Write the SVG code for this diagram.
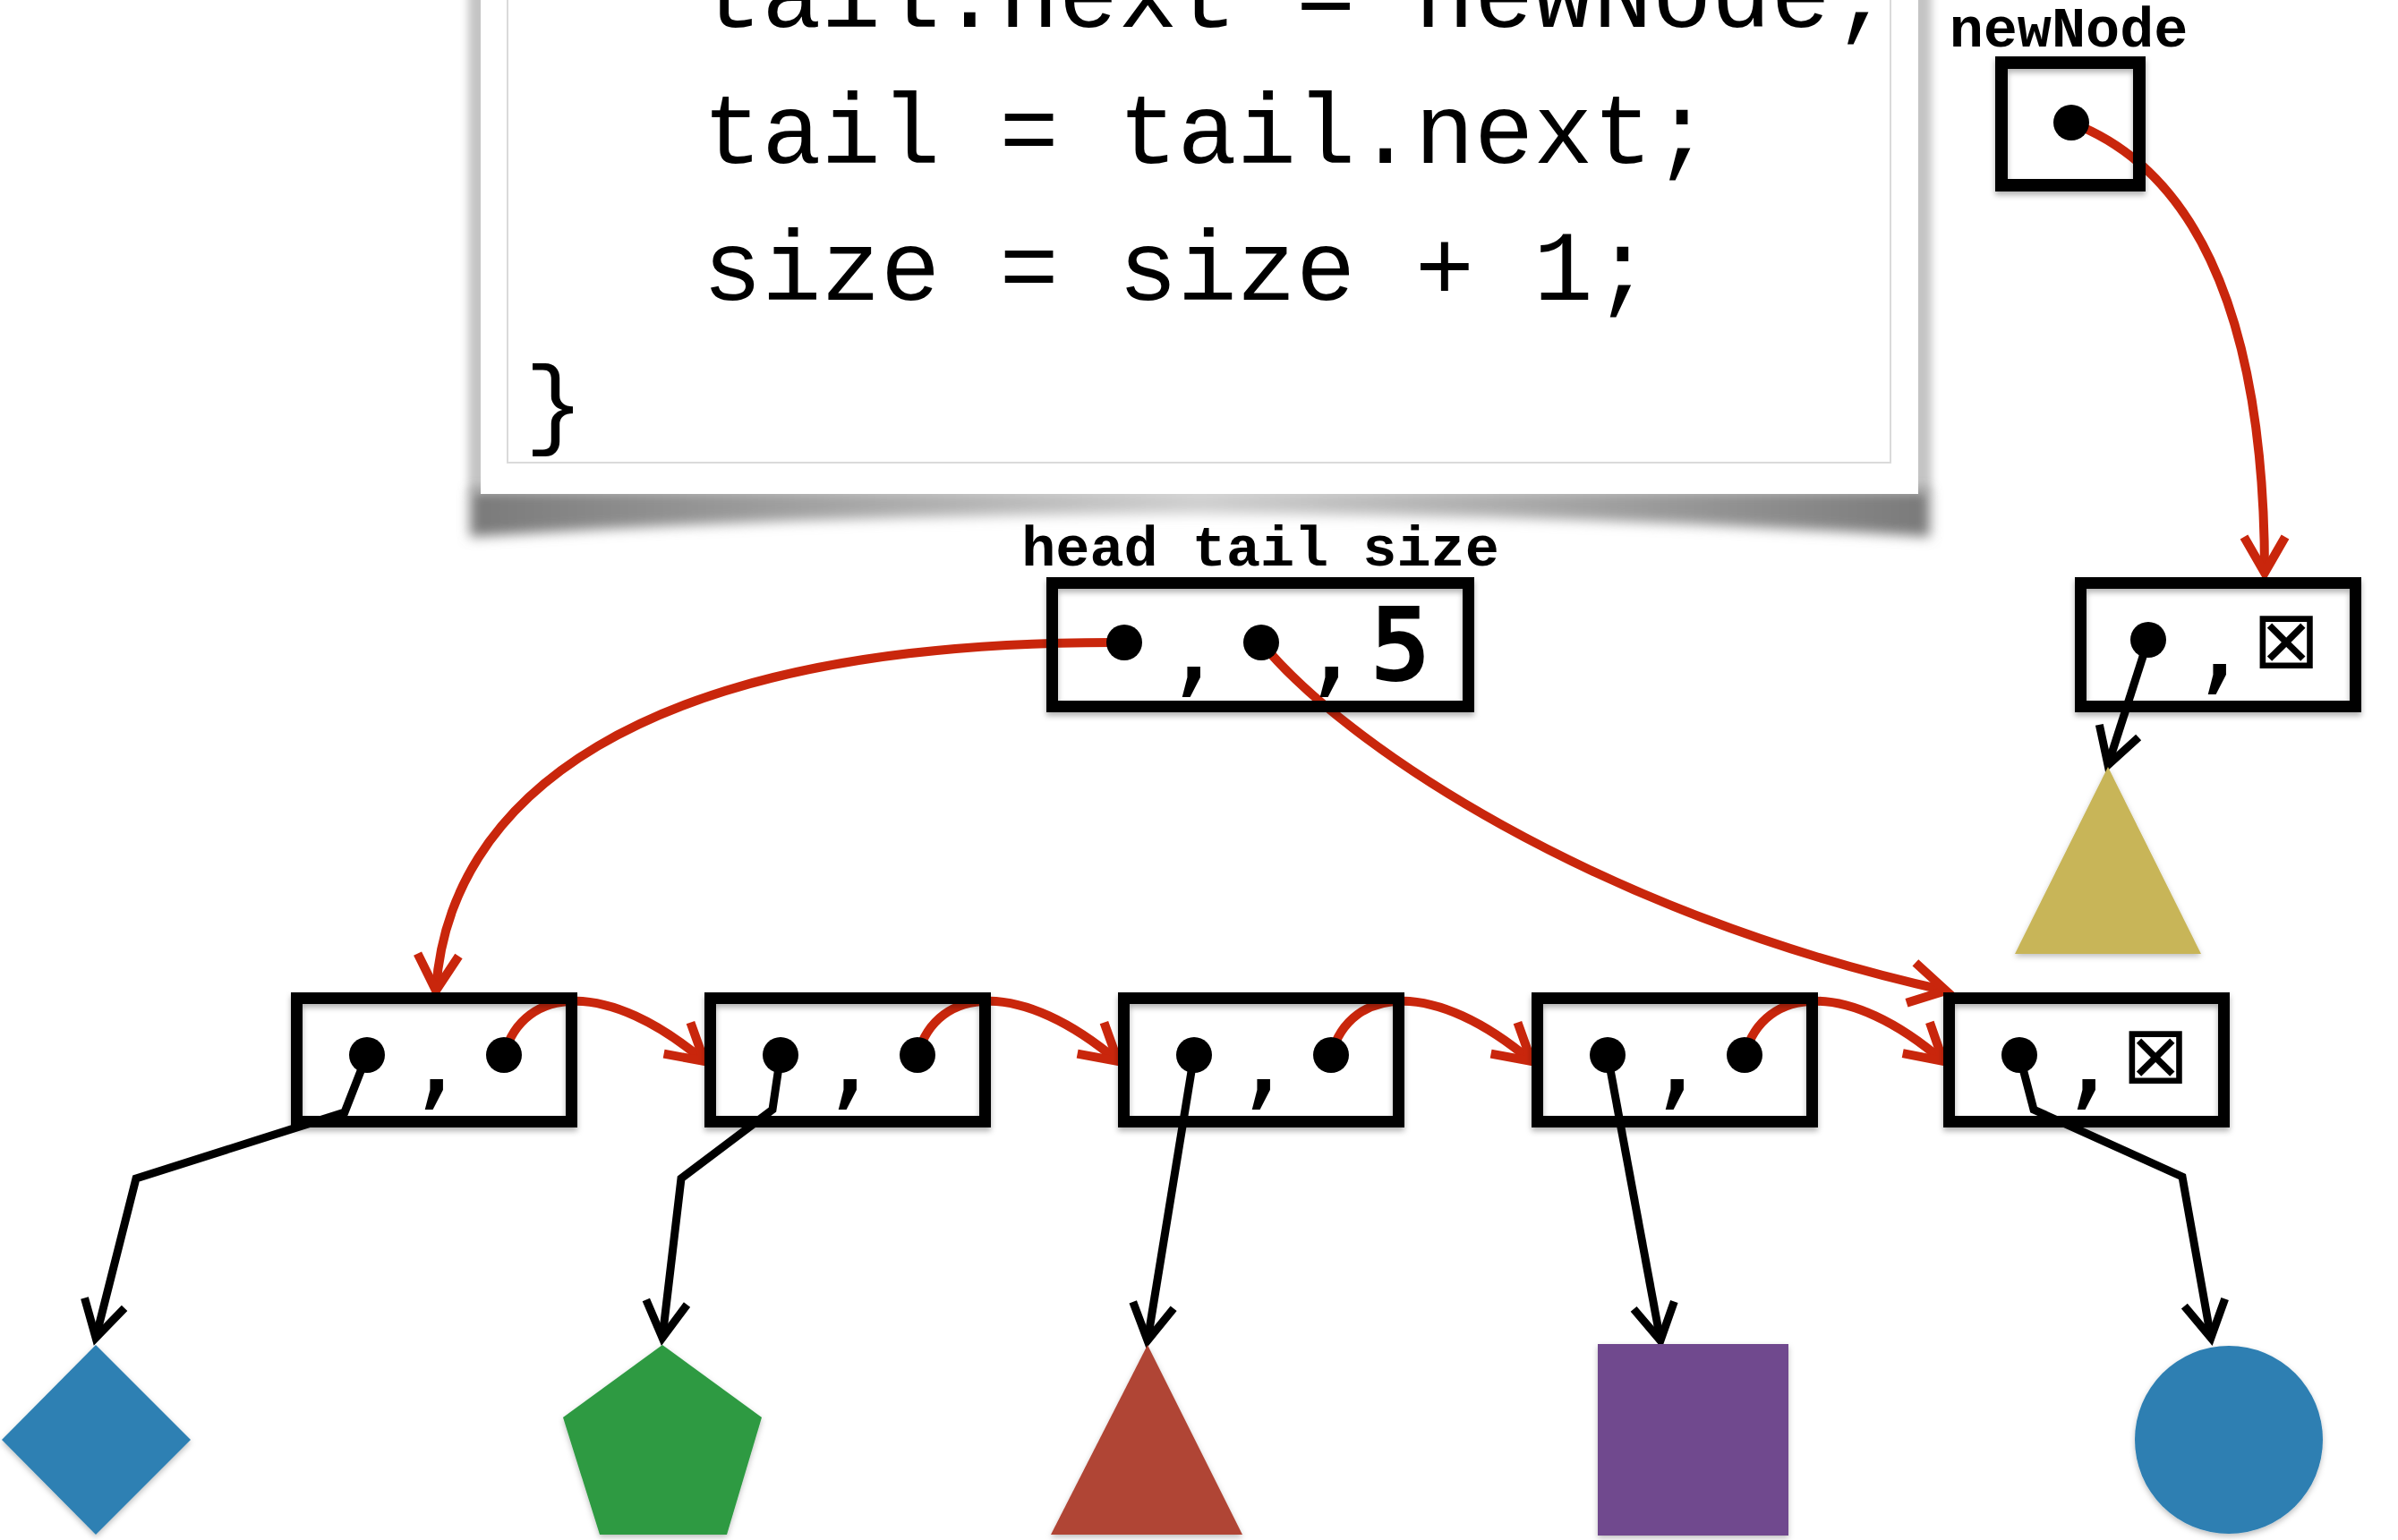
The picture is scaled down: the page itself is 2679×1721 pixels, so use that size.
<svg xmlns="http://www.w3.org/2000/svg" width="2679" height="1721" viewBox="0 0 2679 1721">
<style>
.code{font-family:"Liberation Mono",monospace;font-size:110.5px;fill:#000}
.lbl{font-family:"Liberation Mono",monospace;font-weight:bold;font-size:63.5px;fill:#000}
.box{fill:none;stroke:#000;stroke-width:13;filter:url(#ds)}
.dot{fill:#000}
.cm{font-family:"DejaVu Sans Mono",monospace;font-size:118px;fill:#000;text-anchor:middle}
.five{font-family:"DejaVu Sans Mono",monospace;font-weight:bold;font-size:114px;fill:#000;text-anchor:middle}
.nul{font-family:"DejaVu Sans",sans-serif;font-size:90px;fill:#000;text-anchor:middle}
.red{fill:none;stroke:#c9260c;stroke-width:10;marker-end:url(#ar)}
.blk{fill:none;stroke:#000;stroke-width:9;stroke-linejoin:miter;marker-end:url(#ab)}
.shp{filter:url(#ss)}
</style>
<defs>
<filter id="ds" x="-10%" y="-20%" width="120%" height="150%"><feDropShadow dx="0" dy="4" stdDeviation="3" flood-color="#000" flood-opacity="0.3"/></filter>
<filter id="ss" x="-10%" y="-10%" width="120%" height="125%"><feDropShadow dx="0" dy="3" stdDeviation="3" flood-color="#000" flood-opacity="0.25"/></filter>
<filter id="blur5"><feGaussianBlur stdDeviation="5"/></filter>
<filter id="blur8" x="-5%" y="-50%" width="110%" height="200%"><feGaussianBlur stdDeviation="7"/></filter>
<linearGradient id="curl" x1="0" y1="0" x2="1" y2="0">
<stop offset="0" stop-color="#7a7a7a"/><stop offset="0.5" stop-color="#cfcfcf"/><stop offset="1" stop-color="#7a7a7a"/>
</linearGradient>
<marker id="ar" markerUnits="userSpaceOnUse" orient="auto" refX="0" refY="0" markerWidth="100" markerHeight="100" viewBox="-60 -50 100 100" overflow="visible">
<path d="M-40,-23 L0,0 L-40,23" fill="none" stroke="#c9260c" stroke-width="10"/>
</marker>
<marker id="ab" markerUnits="userSpaceOnUse" orient="auto" refX="0" refY="0" markerWidth="100" markerHeight="100" viewBox="-60 -50 100 100" overflow="visible">
<path d="M-40,-23 L0,0 L-40,23" fill="none" stroke="#000" stroke-width="9"/>
</marker>
</defs>
<rect width="2679" height="1721" fill="#fff"/>

<g id="code-panel">
<rect x="523" y="-20" width="1635" height="572" fill="#c4c4c4" filter="url(#blur5)"/>
<path d="M525,548 L2156,548 L2156,600 Q1340,548 525,600 Z" fill="url(#curl)" filter="url(#blur8)"/>
<rect x="537" y="-20" width="1606" height="572" fill="#fff"/>
<rect x="567" y="-20" width="1545" height="537" fill="none" stroke="#dadada" stroke-width="2"/>
<text class="code" x="785" y="30">tail.next = newNode;</text>
<text class="code" x="785" y="182">tail = tail.next;</text>
<text class="code" x="785" y="335">size = size + 1;</text>
<text class="code" x="586" y="487">}</text>
</g>

<g id="connectors">
<path class="red" d="M2314,137 C2440,185 2530,330 2530,640"/>
<path class="red" d="M1256,718 C700,715 500,900 487,1107"/>
<path class="red" d="M1409,718 C1500,830 1780,1020 2174,1107"/>
<path class="red" d="M563,1179 C585,1100 680,1095 787,1186"/>
<path class="red" d="M1025,1179 C1047,1100 1142,1095 1249,1186"/>
<path class="red" d="M1487,1179 C1509,1100 1604,1095 1711,1186"/>
<path class="red" d="M1949,1179 C1971,1100 2066,1095 2171,1186"/>
<path class="blk" d="M410,1179 L385,1243 L152,1317 L107,1495"/>
<path class="blk" d="M872,1179 L863,1240 L761,1317 L740,1495"/>
<path class="blk" d="M1334,1179 L1282,1498"/>
<path class="blk" d="M1796,1179 L1855,1498"/>
<path class="blk" d="M2256,1179 L2272,1240 L2438,1315 L2470,1495"/>
<path class="blk" d="M2400,715 L2355,855"/>
</g>

<g id="newNode-var">
<text class="lbl" x="2311" y="52" text-anchor="middle">newNode</text>
<rect class="box" x="2236" y="70" width="154" height="137" style="stroke-width:14"/>
<circle class="dot" cx="2314" cy="137" r="20"/>
</g>

<g id="list-header">
<text class="lbl" x="1408" y="632" text-anchor="middle">head tail size</text>
<rect class="box" x="1175.5" y="651.5" width="465" height="138"/>
<circle class="dot" cx="1256" cy="718" r="20"/>
<circle class="dot" cx="1409" cy="718" r="20"/>
<text class="cm" x="1333" y="762">,</text>
<text class="cm" x="1487" y="762">,</text>
<text class="five" x="1564" y="760">5</text>
</g>

<g id="node-new">
<rect class="box" x="2324.5" y="651.5" width="307" height="138"/>
<circle class="dot" cx="2400" cy="715" r="20"/>
<text class="cm" x="2479" y="759">,</text>
<text class="nul" x="2554" y="746">⊠</text>
</g>

<g id="node1">
<rect class="box" x="331.5" y="1115.5" width="307" height="138"/>
<circle class="dot" cx="410" cy="1179" r="20"/>
<circle class="dot" cx="563" cy="1179" r="20"/>
<text class="cm" x="487" y="1223">,</text>
</g>
<g id="node2">
<rect class="box" x="793.5" y="1115.5" width="307" height="138"/>
<circle class="dot" cx="872" cy="1179" r="20"/>
<circle class="dot" cx="1025" cy="1179" r="20"/>
<text class="cm" x="949" y="1223">,</text>
</g>
<g id="node3">
<rect class="box" x="1255.5" y="1115.5" width="307" height="138"/>
<circle class="dot" cx="1334" cy="1179" r="20"/>
<circle class="dot" cx="1487" cy="1179" r="20"/>
<text class="cm" x="1411" y="1223">,</text>
</g>
<g id="node4">
<rect class="box" x="1717.5" y="1115.5" width="307" height="138"/>
<circle class="dot" cx="1796" cy="1179" r="20"/>
<circle class="dot" cx="1949" cy="1179" r="20"/>
<text class="cm" x="1873" y="1223">,</text>
</g>
<g id="node5">
<rect class="box" x="2177.5" y="1115.5" width="307" height="138"/>
<circle class="dot" cx="2256" cy="1179" r="20"/>
<text class="cm" x="2333" y="1223">,</text>
<text class="nul" x="2408" y="1210">⊠</text>
</g>

<g id="shape-yellow-triangle"><polygon class="shp" points="2355,857 2459,1066 2251,1066" fill="#c8b558"/></g>
<g id="shape-diamond"><polygon class="shp" points="107,1503 213,1609 107,1715 2,1609" fill="#2e80b3"/></g>
<g id="shape-pentagon"><polygon class="shp" points="740,1503 851,1584 812,1715 670,1715 629,1584" fill="#2e9a42"/></g>
<g id="shape-red-triangle"><polygon class="shp" points="1282,1503 1388,1715 1174,1715" fill="#b04434"/></g>
<g id="shape-square"><rect class="shp" x="1785" y="1502" width="213" height="214" fill="#6f4a8e"/></g>
<g id="shape-circle"><circle class="shp" cx="2490" cy="1609" r="105" fill="#2e7fb2"/></g>
</svg>
